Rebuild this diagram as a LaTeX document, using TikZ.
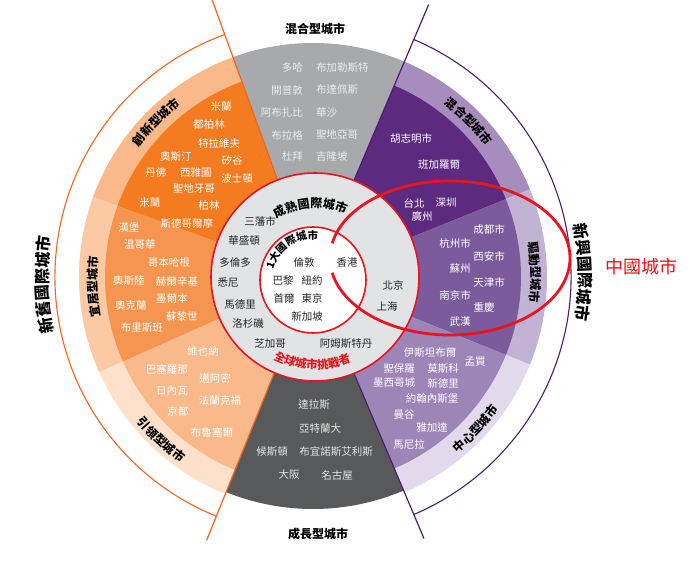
\documentclass[tikz,border=0pt]{standalone}
\usepackage{fontspec}
\setmainfont{Noto Sans CJK TC}
\usepackage{tikz}
\usetikzlibrary{decorations.text}

\definecolor{graytop}{HTML}{A7A9AC}
\definecolor{graybot}{HTML}{58595B}
\definecolor{ringgray}{HTML}{E1E3E4}
\definecolor{innodark}{HTML}{F47B20}
\definecolor{innoband}{HTML}{F9B98B}
\definecolor{livedark}{HTML}{F6954F}
\definecolor{liveband}{HTML}{FBC9A3}
\definecolor{leaddark}{HTML}{F9B98B}
\definecolor{leadband}{HTML}{FDE1CB}
\definecolor{mixdark}{HTML}{5C2A7E}
\definecolor{mixband}{HTML}{A68DBE}
\definecolor{drivedark}{HTML}{7C5B9D}
\definecolor{driveband}{HTML}{C2B2D4}
\definecolor{hubdark}{HTML}{9D85B8}
\definecolor{hubband}{HTML}{E2D9EC}
\definecolor{chinared}{HTML}{E8141E}
\definecolor{orangeline}{HTML}{F26522}
\definecolor{purpleline}{HTML}{4B1E6E}

\newcommand\cityfont{\fontsize{10.5}{12}\selectfont}
\newcommand\bandfont{\fontsize{12}{14}\selectfont\bfseries}
\newcommand\bigfont{\fontsize{16}{18}\selectfont\bfseries}

\tikzset{
  city/.style={text=white, font=\cityfont, inner sep=0pt},
  ringcity/.style={text=black!85, font=\cityfont, inner sep=0pt},
  typelabel/.style={text=black, font=\bandfont, inner sep=0pt},
  curved/.style={decorate, decoration={text along path, text align=center, text={#1}}},
  ringline/.style={draw=chinared, line width=1.6pt},
  chinaloop/.style={draw=chinared, line width=2.8pt},
}

\begin{document}
\begin{tikzpicture}[x=1pt, y=1pt]
  \fill[white] (-313,-285) rectangle (387,277);
  \useasboundingbox (-313,-285) rectangle (387,277);

  \fill[graytop] (0,0) -- (67:234) arc (67:110:234) -- cycle;
  \fill[graybot] (0,0) -- (248:232) arc (248:293:232) -- cycle;

  \fill[innoband] (0,0) -- (110:234) arc (110:160:234) -- cycle;
  \fill[liveband] (0,0) -- (160:234) arc (160:204:234) -- cycle;
  \fill[leadband] (0,0) -- (204:234) arc (204:248:234) -- cycle;
  \fill[innodark] (0,0) -- (110:208) arc (110:160:208) -- cycle;
  \fill[livedark] (0,0) -- (160:208) arc (160:204:208) -- cycle;
  \fill[leaddark] (0,0) -- (204:208) arc (204:248:208) -- cycle;

  \fill[mixband] (0,0) -- (22:234) arc (22:67:234) -- cycle;
  \fill[driveband] (0,0) -- (-22:234) arc (-22:22:234) -- cycle;
  \fill[hubband] (0,0) -- (-67:234) arc (-67:-22:234) -- cycle;
  \fill[mixdark] (0,0) -- (22:208) arc (22:67:208) -- cycle;
  \fill[drivedark] (0,0) -- (-22:208) arc (-22:22:208) -- cycle;
  \fill[hubdark] (0,0) -- (-67:208) arc (-67:-22:208) -- cycle;

  \draw[orangeline, line width=1.2pt] (110:104) -- (110:296);
  \draw[orangeline, line width=1.2pt] (248:104) -- (248:284);
  \draw[purpleline, line width=1.2pt] (67:104) -- (67:296);
  \draw[purpleline, line width=1.2pt] (293:104) -- (293:284);
  \draw[orangeline, line width=1.1pt] (110:258) arc (110:248:258);
  \draw[purpleline, line width=1.1pt] (67:258) arc (67:-67:258);

  \coordinate (matc) at (2,0);
  \coordinate (topc) at (0,-3);
  \fill[ringgray] (matc) circle (104);
  \draw[ringline] (matc) circle (104);
  \fill[white] (topc) circle (53);
  \draw[ringline] (topc) circle (53);

  \coordinate (loopc) at (137,19);
  \draw[chinaloop] ([shift={(loopc)}]169:120 and 77) arc[start angle=169, end angle=-169, x radius=120, y radius=77];

  \foreach \y/\l/\r [count=\i] in {209/多哈/布加勒斯特, 187/開普敦/布達佩斯, 164/阿布扎比/華沙, 142/布拉格/聖地亞哥, 120/杜拜/吉隆坡}{
    \node[city, text=white!92!black, anchor=east] (mixl\i) at (-10,\y) {\l};
    \node[city, text=white!92!black, anchor=west] (mixr\i) at (3,\y) {\r};
  }

  \foreach \x/\y/\t [count=\i] in {98/138/胡志明市, 126/112/班加羅爾, 101/74/台北, 133/74/深圳, 109/60/廣州}
    \node[city] (mix\i) at (\x,\y) {\t};

  \foreach \x/\y/\t [count=\i] in {176/47/成都市, 142/34/杭州市, 176/21/西安市, 147/8/蘇州, 176/-5/天津市, 142/-18/南京市, 171/-30/重慶, 147/-45/武漢}
    \node[city] (drive\i) at (\x,\y) {\t};

  \foreach \x/\y/\t [count=\i] in {117/-76/伊斯坦布爾, 162/-85/孟買, 86/-92/聖保羅, 130/-92/莫斯科, 81/-106/墨西哥城, 130/-106/新德里, 119/-122/約翰內斯堡, 91/-138/曼谷, 119/-151/雅加達, 96/-167/馬尼拉}
    \node[city] (hub\i) at (\x,\y) {\t};

  \foreach \x/\y/\t [count=\i] in {-92/170/米蘭, -104/152/都柏林, -94/134/特拉維夫, -137/120/奧斯汀, -81/116/矽谷, -157/104/丹佛, -117/104/西雅圖, -76/98/波士頓, -119/88/聖地牙哥, -163/74/米蘭, -104/71/柏林, -126/53/斯德哥爾摩}
    \node[city] (inno\i) at (\x,\y) {\t};

  \foreach \x/\y/\t [count=\i] in {-184/49/漢堡, -173/32/溫哥華, -144/14/哥本哈根, -184/-4/奧斯陸, -136/-4/赫爾辛基, -141/-22/墨爾本, -182/-29/奧克蘭, -131/-40/蘇黎世, -171/-51/布里斯班}
    \node[city] (live\i) at (\x,\y) {\t};

  \foreach \x/\y/\t [count=\i] in {-110/-75/維也納, -146/-92/巴塞羅那, -98/-101/邁阿密, -141/-114/日內瓦, -93/-124/法蘭克福, -135/-134/京都, -101/-155/布魯塞爾}
    \node[city] (lead\i) at (\x,\y) {\t};

  \foreach \x/\y/\t [count=\i] in {1/-128/達拉斯, 7/-152/亞特蘭大, -41/-175/候斯頓, 23/-175/布宜諾斯艾利斯, -24/-198/大阪, 24/-198/名古屋}
    \node[city, text=white!90!black] (grow\i) at (\x,\y) {\t};

  \foreach \x/\y/\t [count=\i] in {-53/56/三藩市, -69/36/華盛頓, -78/15/多倫多, -85/-6/悉尼, -73/-27/馬德里, -65/-47/洛杉磯, -43/-67/芝加哥, 33/-67/阿姆斯特丹, 34/14/香港, 80/-8/北京, 74/-29/上海}
    \node[ringcity] (mat\i) at (\x,\y) {\t};

  \foreach \x/\y/\t [count=\i] in {-9/15/倫敦, -30/-3/巴黎, -1/-3/紐約, -29/-21/首爾, -1/-21/東京, -6/-39/新加坡}
    \node[ringcity] (top\i) at (\x,\y) {\t};

  \node[typelabel] (mixtitle) at (2,248) {混合型城市};
  \node[typelabel] (growtitle) at (5,-257) {成長型城市};
  \node[text=chinared, font=\fontsize{18}{20}\selectfont, inner sep=0pt] (china) at (328,10) {中國城市};

  \path[curved={|\bandfont|創新型城市}] (160.4:217) arc (160.4:110.4:217);
  \path[curved={|\bandfont|宜居型城市}] (207.6:216) arc (207.6:157.6:216);
  \path[curved={|\bandfont|引領型城市}] (202:228) arc (202:252:228);
  \path[curved={|\bandfont|混合型城市}] (70:217) arc (70:20:217);
  \path[curved={|\bandfont|驅動型城市}] (26.3:218) arc (26.3:-23.7:218);
  \path[curved={|\bandfont|中心型城市}] (-68:228) arc (-68:-18:228);

  \path[curved={|\bigfont|新舊國際城市}] (206.7:265) arc (206.7:156.7:265);
  \path[curved={|\bigfont|新興國際城市}] (26:266) arc (26:-24:266);

  \path[curved={|\bandfont|成熟國際城市}] ([shift={(matc)}]143.9:69.5) arc (143.9:43.9:69.5);
  \path[curved={|\fontsize{11.5}{13}\selectfont\bfseries\color{chinared}|全球城市挑戰者}] ([shift={(matc)}]218:92) arc (218:318:92);
  \path[curved={|\fontsize{10.5}{12}\selectfont\bfseries|1大國際城市}] ([shift={(topc)}]174:41) arc (174:74:41);
\end{tikzpicture}
\end{document}
